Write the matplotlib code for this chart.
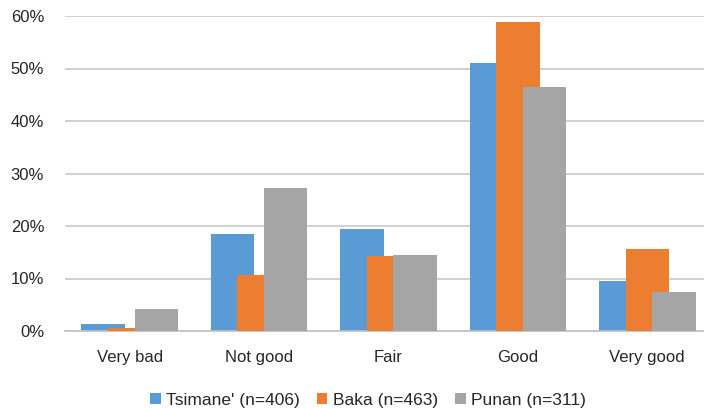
import matplotlib
matplotlib.use("Agg")
import matplotlib.pyplot as plt
import numpy as np

plt.rcParams['font.family'] = ['Liberation Sans', 'DejaVu Sans']

categories = ["Very bad", "Not good", "Fair", "Good", "Very good"]
series_names = ["Tsimane' (n=406)", "Baka (n=463)", "Punan (n=311)"]
tsimane = [1.3, 18.4, 19.4, 51.1, 9.5]
baka = [0.6, 10.7, 14.3, 58.8, 15.6]
punan = [4.2, 27.3, 14.4, 46.5, 7.4]
colors = ["#5B9BD5", "#ED7D31", "#A5A5A5"]
yticks = [0, 10, 20, 30, 40, 50, 60]

fig = plt.figure(figsize=(7.04, 4.08), dpi=100)
ax = fig.add_axes([65/704, 1-331/408, 647/704, 315/408])

x = np.arange(len(categories))
width = 0.335
step = 0.205
for i, (vals, name, c) in enumerate(zip([tsimane, baka, punan], series_names, colors)):
    ax.bar(x + (i-1)*step, vals, width=width, color=c, label=name, zorder=2+i)

ax.set_xlim(-0.5, len(categories)-0.5)
ax.set_ylim(0, 60)
ax.set_yticks(yticks)
ax.set_yticklabels([f"{v}%" for v in yticks])
ax.set_xticks(x)
ax.set_xticklabels(categories)
ax.tick_params(axis='both', length=0, labelsize=12, colors='#262626')
ax.tick_params(axis='x', pad=14)
ax.tick_params(axis='y', pad=15)
ax.grid(axis='y', color='#C8C8C8', linewidth=1.2, zorder=0)
ax.set_axisbelow(True)
for s in ['top', 'right', 'left']:
    ax.spines[s].set_visible(False)
ax.spines['bottom'].set_color('#BFBFBF')
ax.spines['bottom'].set_linewidth(1.2)

leg = fig.legend(loc='center', bbox_to_anchor=(368/704, 1-400/408), ncol=3, frameon=False,
                 fontsize=12.5, handlelength=0.6, handleheight=0.6, handletextpad=0.3,
                 columnspacing=1.0, labelcolor='#262626')

fig.savefig("out.png", dpi=100)
